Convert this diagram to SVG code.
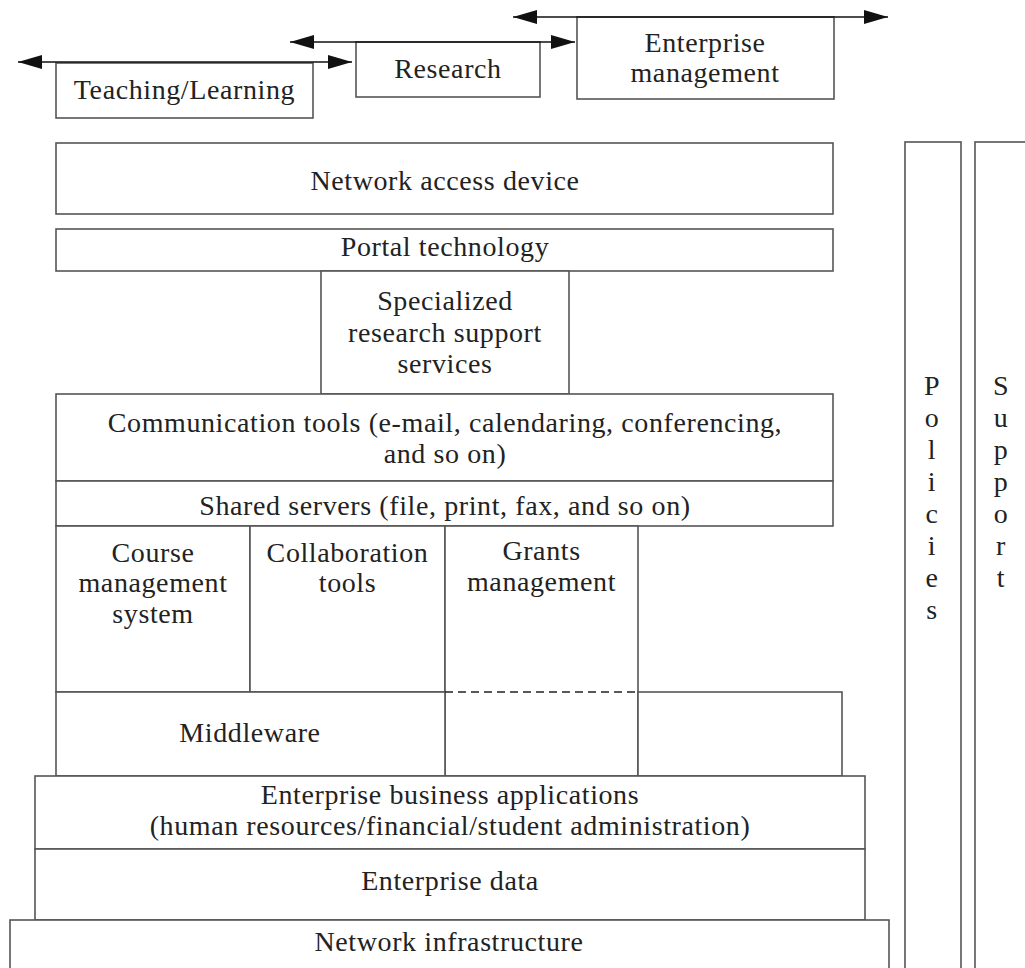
<svg xmlns="http://www.w3.org/2000/svg" width="1025" height="968" viewBox="0 0 1025 968">
<style>
rect{fill:#fff;stroke:#555;stroke-width:1.6}
text{font-family:"Liberation Serif","Times New Roman",serif;font-size:28px;letter-spacing:0.6px;fill:#222;text-anchor:middle}
.c{stroke:#111;stroke-width:1.6;fill:none}
.d{stroke:#222;stroke-width:1.6;stroke-dasharray:8 5;fill:none}
</style>
<defs>
<marker id="ah" markerUnits="userSpaceOnUse" markerWidth="26" markerHeight="16" refX="24" refY="7" orient="auto-start-reverse" viewBox="0 0 26 16">
<path d="M0,0 L24,7 L0,14 Z" fill="#111"/>
</marker>
</defs>
<rect x="-10" y="-10" width="1045" height="988" style="fill:#fff;stroke:none"/>
<g id="policies"><rect x="905" y="142" width="56" height="840"/>
<text x="932" y="395">P</text><text x="932" y="427">o</text><text x="932" y="459">l</text><text x="932" y="491">i</text><text x="932" y="523">c</text><text x="932" y="555">i</text><text x="932" y="587">e</text><text x="932" y="619">s</text></g>
<g id="support"><rect x="975" y="142" width="70" height="840"/>
<text x="1001" y="395">S</text><text x="1001" y="427">u</text><text x="1001" y="459">p</text><text x="1001" y="491">p</text><text x="1001" y="523">o</text><text x="1001" y="555">r</text><text x="1001" y="587">t</text></g>
<g id="teaching"><rect x="56" y="63" width="257" height="55"/><text x="184.5" y="99">Teaching/Learning</text></g>
<g id="research"><rect x="356" y="42" width="184" height="55"/><text x="448" y="78">Research</text></g>
<g id="enterprise-mgmt"><rect x="577" y="17" width="257" height="82"/><text x="705" y="52">Enterprise</text><text x="705" y="82">management</text></g>
<g id="network-access"><rect x="56" y="143" width="777" height="71"/><text x="445" y="190">Network access device</text></g>
<g id="portal"><rect x="56" y="229" width="777" height="42"/><text x="445" y="256">Portal technology</text></g>
<g id="specialized"><rect x="321" y="271" width="248" height="123"/><text x="445" y="310">Specialized</text><text x="445" y="342">research support</text><text x="445" y="373">services</text></g>
<g id="communication"><rect x="56" y="394" width="777" height="87"/><text x="445" y="432">Communication tools (e-mail, calendaring, conferencing,</text><text x="445" y="463">and so on)</text></g>
<g id="shared"><rect x="56" y="481" width="777" height="45"/><text x="445" y="515">Shared servers (file, print, fax, and so on)</text></g>
<g id="course"><rect x="56" y="526" width="194" height="166"/><text x="153" y="562">Course</text><text x="153" y="592">management</text><text x="153" y="623">system</text></g>
<g id="collab"><rect x="250" y="526" width="195" height="166"/><text x="347.5" y="562">Collaboration</text><text x="347.5" y="592">tools</text></g>
<g id="grants"><rect x="445" y="526" width="193" height="250"/><text x="541.5" y="560">Grants</text><text x="541.5" y="591">management</text></g>
<g id="middleware"><rect x="56" y="692" width="389" height="84"/><text x="250" y="742">Middleware</text></g>
<g id="empty"><rect x="638" y="692" width="204" height="84"/></g>
<g id="eba"><rect x="35" y="776" width="830" height="73"/><text x="450" y="804">Enterprise business applications</text><text x="450" y="835">(human resources/financial/student administration)</text></g>
<g id="edata"><rect x="35" y="849" width="830" height="71"/><text x="450" y="890">Enterprise data</text></g>
<g id="netinfra"><rect x="10" y="920" width="879" height="60"/><text x="449" y="951">Network infrastructure</text></g>
<g id="connectors">
<line class="c" x1="18" y1="62" x2="352" y2="62" marker-start="url(#ah)" marker-end="url(#ah)"/>
<line class="c" x1="290" y1="42" x2="575" y2="42" marker-start="url(#ah)" marker-end="url(#ah)"/>
<line class="c" x1="513" y1="17" x2="888" y2="17" marker-start="url(#ah)" marker-end="url(#ah)"/>
<line class="d" x1="445" y1="692" x2="638" y2="692"/>
</g>
</svg>
